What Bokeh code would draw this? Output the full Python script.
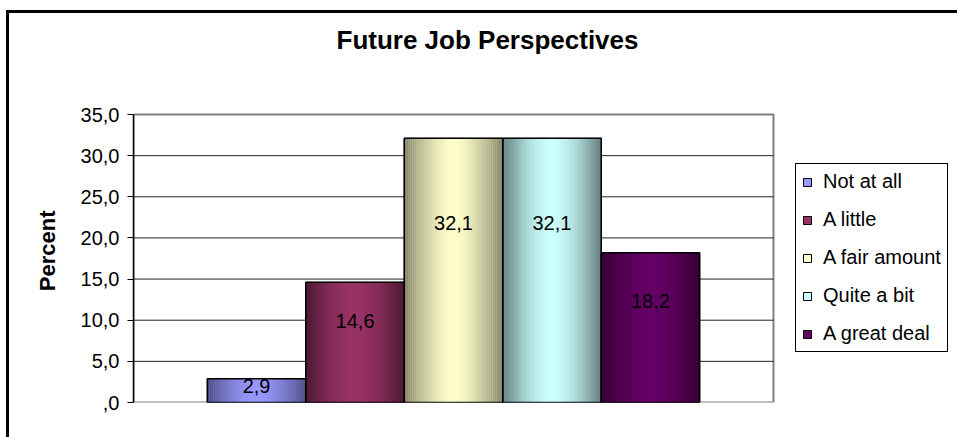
import numpy as np
from bokeh.plotting import figure
from bokeh.models import (ColumnDataSource, Legend, LegendItem, CustomJSTickFormatter,
                          FixedTicker, Range1d, Label)
from bokeh.embed import file_html
from bokeh.resources import INLINE
from bokeh.core.properties import value

# ---- data ----
categories = ["Not at all", "A little", "A fair amount", "Quite a bit", "A great deal"]
percent = [2.9, 14.6, 32.1, 32.1, 18.2]
y_ticks = [0, 5, 10, 15, 20, 25, 30, 35]
center_colors = ["#9999FF", "#993366", "#FFFFCC", "#CCFFFF", "#660066"]
title_text = "Future Job Perspectives"
y_label = "Percent"

FONT = "Liberation Sans"

# ---- layout (pixels) ----
W, H = 948, 424
BORDER_L, BORDER_B = 124, 35          # space for y axis / below plot area
PLOT_W, PLOT_H = 640, 288             # drawn plot area inside the frame
FRAME_W, FRAME_H = W - BORDER_L, H - BORDER_B

n = len(categories)
idx = list(range(n))
y_max = y_ticks[-1]
x0 = -0.5 - 0.75
x1 = n - 0.5 + 0.75
x_end = x0 + (x1 - x0) * FRAME_W / PLOT_W
y_end = y_max * FRAME_H / PLOT_H

p = figure(width=W, height=H, title=None,
           x_range=Range1d(x0, x_end), y_range=Range1d(0, y_end),
           x_axis_type=None,
           output_backend="svg", toolbar_location=None,
           min_border_left=BORDER_L, min_border_right=0,
           min_border_top=0, min_border_bottom=BORDER_B)
# outer chart-area border: a left and a top black edge only (cropped chart)
p.styles = {"margin-left": "9px", "margin-top": "13px", "vertical-align": "top",
            "box-shadow": ("-30px 27px 0px -27px black, -30px -30px 0px -27px black, "
                           "-213px -213px 0px -210px black, 210px -213px 0px -210px black")}
p.background_fill_color = "white"
p.border_fill_color = "white"
p.outline_line_color = None
p.ygrid.visible = False

# y axis
yax = p.yaxis[0]
yax.bounds = (0, y_max)
yax.ticker = FixedTicker(ticks=y_ticks)
yax.formatter = CustomJSTickFormatter(code="""
    const s = tick.toFixed(1).replace('.', ',');
    return s.startsWith('0') ? s.slice(1) : s;
""")
yax.major_label_text_font = FONT
yax.major_label_text_font_size = "20px"
yax.major_label_text_color = "black"
yax.axis_line_color = "black"
yax.axis_line_width = 1.5
yax.major_tick_line_color = "black"
yax.major_tick_out = 6
yax.major_tick_in = 0
yax.minor_tick_line_color = None
yax.major_label_standoff = 8
# non-breaking spaces after the label keep it centred on the plot area, not the frame
yax.axis_label = y_label + "\u00a0" * 14
yax.axis_label_text_font = FONT
yax.axis_label_text_font_size = "22px"
yax.axis_label_text_font_style = "bold"
yax.axis_label_text_color = "black"
yax.axis_label_standoff = 18

# plot area border and grid lines
p.quad(left=[x0], right=[x1], bottom=[0], top=[y_max], fill_color=None,
       line_color="#808080", line_width=2)
grid_y = y_ticks[1:-1]
p.segment(x0=[x0] * len(grid_y), x1=[x1] * len(grid_y), y0=grid_y, y1=grid_y,
          line_color="#222222", line_width=1)

# base bars (used for legend swatches)
base_src = ColumnDataSource(dict(x=idx, top=percent, color=center_colors, cat=categories))
base = p.vbar(x="x", top="top", width=1.0, source=base_src, fill_color="color",
              line_color="black", line_width=1)

# cylinder-like horizontal shading, built as thin strips
def hex_rgb(h):
    h = h.lstrip("#")
    return np.array([int(h[i:i + 2], 16) for i in (0, 2, 4)], dtype=float)

N = 48
sx, stop, scol = [], [], []
for i, (v, c) in enumerate(zip(percent, center_colors)):
    rgb = hex_rgb(c)
    for k in range(N):
        t = (k + 0.5) / N
        f = 1 - abs(2 * t - 1) ** 1.6
        shade = 0.5 + 0.5 * f
        col = np.clip(rgb * shade, 0, 255).astype(int)
        sx.append(i - 0.5 + t)
        stop.append(v)
        scol.append("#%02x%02x%02x" % tuple(col))
strip_src = ColumnDataSource(dict(x=sx, top=stop, color=scol))
p.vbar(x="x", top="top", width=1.0 / N * 1.1, source=strip_src,
       fill_color="color", line_color=None)

# outlines
p.vbar(x=idx, top=percent, width=1.0, fill_color=None, line_color="black", line_width=1.5)

# data labels
labels = [("%.1f" % v).replace(".", ",") for v in percent]
lab_src = ColumnDataSource(dict(x=idx, y=[v * 0.68 for v in percent], text=labels))
p.text(x="x", y="y", text="text", source=lab_src, text_font=value(FONT),
       text_font_size="20px", text_align="center", text_baseline="middle",
       text_color="black")

# title (screen units relative to the frame's bottom-left corner)
p.add_layout(Label(x=354, y=363, x_units="screen", y_units="screen",
                   text=title_text, text_font=FONT, text_font_size="26px",
                   text_font_style="bold", text_color="black",
                   text_align="center", text_baseline="middle"))

# legend
items = [LegendItem(label=c, renderers=[base], index=i) for i, c in enumerate(categories)]
legend = Legend(items=items, location=(PLOT_W + 22, 50), margin=0,
                border_line_color="black", border_line_width=1, border_line_alpha=1,
                background_fill_color="white", background_fill_alpha=1,
                padding=6, spacing=15, label_height=20,
                glyph_height=10, glyph_width=10, label_standoff=11,
                label_text_font=FONT, label_text_font_size="20px",
                label_text_color="black")
p.add_layout(legend, "center")

open("out.html", "w").write(file_html(p, INLINE))
